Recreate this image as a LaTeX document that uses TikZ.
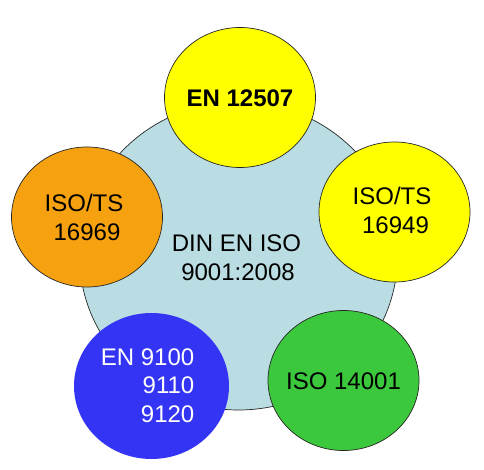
\documentclass[tikz,border=0pt]{standalone}
\usepackage{fontspec}
\setmainfont{Liberation Sans}
\usetikzlibrary{shapes.geometric}
\definecolor{lightblue}{HTML}{B9DDE2}
\definecolor{yel}{HTML}{FFFF00}
\definecolor{orng}{HTML}{F6A10F}
\definecolor{grn}{HTML}{3CC83C}
\definecolor{blu}{HTML}{3434F5}
\begin{document}
\begin{tikzpicture}[x=1pt,y=-1pt,
  ell/.style={ellipse, draw=black!85, line width=0.7pt, inner sep=0pt},
  small/.style={ell, minimum width=151pt, minimum height=140pt},
  lbl/.style={font=\fontsize{24}{28.5}\selectfont, inner sep=0pt, align=center}]
\useasboundingbox (0,0) rectangle (484,470);
\fill[white] (0,0) rectangle (484,470);
% central circle
\node[ell, fill=lightblue, minimum width=318pt, minimum height=308pt] (din) at (238.5,256) {};
% satellites
\node[small, fill=yel] (en12507) at (240,97.5) {};
\node[small, fill=orng] (ts16969) at (87,217) {};
\node[small, fill=yel] (ts16949) at (394.5,212) {};
\node[small, fill=grn] (iso14001) at (343.5,380.5) {};
\node[ell, draw=none, fill=blu, minimum width=155pt, minimum height=146pt] (en9100) at (151.5,386) {};
% texts
\node[lbl] (dintxt) at (236.5,257.5) {DIN EN ISO\\\hspace*{3pt}9001:2008};
\node[lbl, font=\fontsize{24}{28.5}\selectfont\bfseries] (en12507txt) at (240,98) {EN 12507};
\node[lbl] (ts16969txt) at (84,217.5) {ISO/TS\\\hspace*{6pt}16969};
\node[lbl] (ts16949txt) at (392,210.5) {ISO/TS\\\hspace*{7pt}16949};
\node[lbl] (iso14001txt) at (343.5,381) {ISO 14001};
\node[lbl, align=right, text=white, anchor=east] (en9100txt) at (194.5,385.5) {EN 9100\\9110\\9120};
\end{tikzpicture}
\end{document}
